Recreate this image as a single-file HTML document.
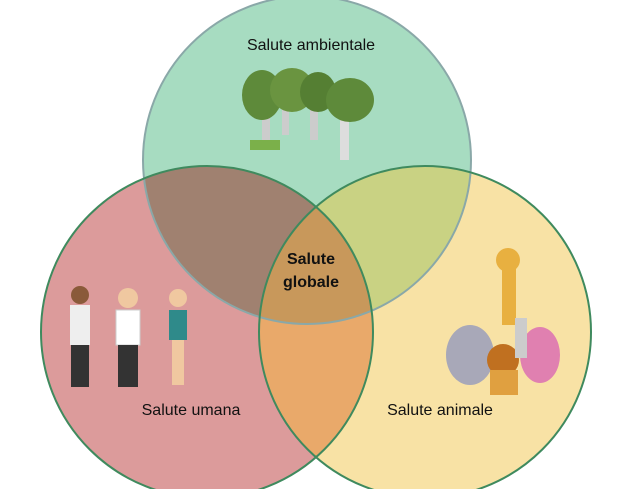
<!DOCTYPE html><html><head><style>body{margin:0;background:#fff}svg{display:block}</style></head><body>
<svg width="640" height="489" viewBox="0 0 640 489" xmlns="http://www.w3.org/2000/svg" font-family="Liberation Sans, Arial, sans-serif">
<defs>
<clipPath id="cT"><circle cx="307" cy="160" r="164"/></clipPath>
<clipPath id="cL"><circle cx="207" cy="332" r="166"/></clipPath>
<clipPath id="cR"><circle cx="425" cy="332" r="166"/></clipPath>
</defs>
<circle cx="307" cy="160" r="164" fill="#a7dcc1"/>
<circle cx="207" cy="332" r="166" fill="#dc9b9b"/>
<circle cx="425" cy="332" r="166" fill="#f8e2a5"/>
<g clip-path="url(#cT)"><circle cx="207" cy="332" r="166" fill="#a08170"/><circle cx="425" cy="332" r="166" fill="#c9d283"/></g>
<g clip-path="url(#cL)"><circle cx="425" cy="332" r="166" fill="#e9a96a"/></g>
<g clip-path="url(#cT)"><g clip-path="url(#cL)"><circle cx="425" cy="332" r="166" fill="#c8985b"/></g></g>
<g fill="none" stroke-width="2">
<circle cx="307" cy="160" r="164" stroke="#8aa8a8"/>
<circle cx="207" cy="332" r="166" stroke="#3f8a5e"/>
<circle cx="425" cy="332" r="166" stroke="#3f8a5e"/>
</g>
<!-- trees -->
<g>
<rect x="262" y="100" width="8" height="40" fill="#ccc"/><rect x="282" y="105" width="7" height="30" fill="#ccc"/>
<rect x="310" y="100" width="8" height="40" fill="#ccc"/><rect x="340" y="105" width="9" height="55" fill="#ddd"/>
<ellipse cx="262" cy="95" rx="20" ry="25" fill="#5e8a3a"/><ellipse cx="292" cy="90" rx="22" ry="22" fill="#6a9440"/>
<ellipse cx="318" cy="92" rx="18" ry="20" fill="#557f33"/><ellipse cx="350" cy="100" rx="24" ry="22" fill="#5e8a3a"/>
<rect x="250" y="140" width="30" height="10" fill="#7bb04a"/>
</g>
<!-- people -->
<g>
<circle cx="80" cy="295" r="9" fill="#8a5a3a"/><rect x="70" y="305" width="20" height="40" fill="#eee"/><rect x="71" y="345" width="18" height="42" fill="#333"/>
<circle cx="128" cy="298" r="10" fill="#f0c8a0"/><rect x="116" y="310" width="24" height="35" fill="#fff" stroke="#ccc"/><rect x="118" y="345" width="20" height="42" fill="#333"/>
<circle cx="178" cy="298" r="9" fill="#f0c8a0"/><rect x="169" y="310" width="18" height="30" fill="#2f8a8a"/><rect x="172" y="340" width="12" height="45" fill="#f0c8a0"/>
</g>
<!-- animals -->
<g>
<rect x="502" y="255" width="14" height="70" fill="#e8b040"/><circle cx="508" cy="260" r="12" fill="#e8b040"/>
<ellipse cx="470" cy="355" rx="24" ry="30" fill="#a8a8b8"/>
<ellipse cx="540" cy="355" rx="20" ry="28" fill="#e080b0"/>
<circle cx="503" cy="360" r="16" fill="#c07020"/><rect x="490" y="370" width="28" height="25" fill="#e0a040"/>
<rect x="515" y="318" width="12" height="40" fill="#ccc"/>
</g>
<text x="311" y="50" font-size="16" text-anchor="middle" fill="#111">Salute ambientale</text>
<text x="191" y="415" font-size="16" text-anchor="middle" fill="#111">Salute umana</text>
<text x="440" y="415" font-size="16" text-anchor="middle" fill="#111">Salute animale</text>
<text x="311" y="264" font-size="16" font-weight="bold" text-anchor="middle" fill="#111">Salute</text>
<text x="311" y="287" font-size="16" font-weight="bold" text-anchor="middle" fill="#111">globale</text>
</svg>
</body></html>
